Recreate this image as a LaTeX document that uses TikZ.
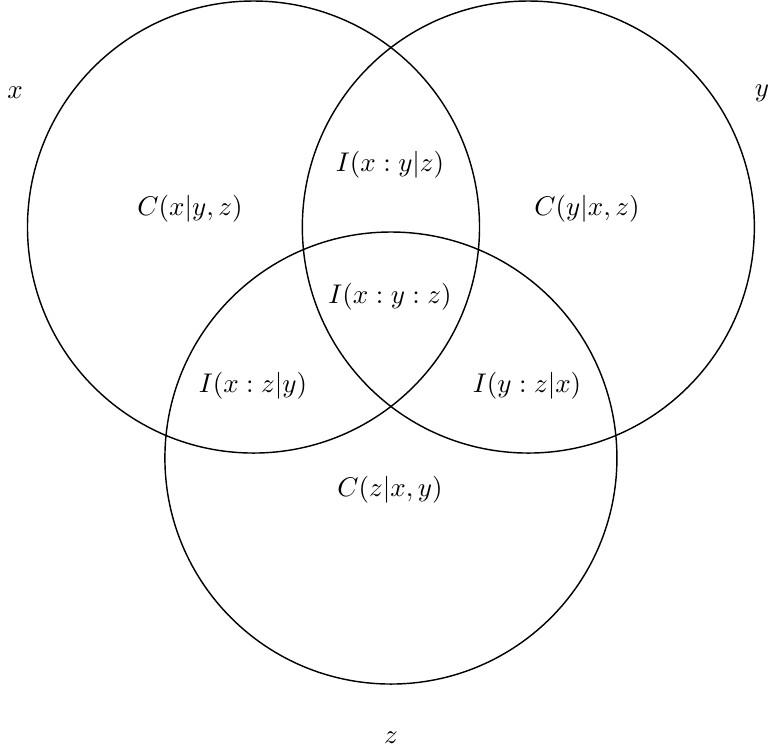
\documentclass[tikz,border=0pt]{standalone}
\usepackage{amsmath}
\usepackage{tikz}
\usetikzlibrary{positioning}
\tikzset{
  setc/.style={draw=black, line width=0.45pt},
  setlbl/.style={inner sep=0pt, scale=0.85},
  part/.style={inner sep=1pt, align=center, scale=0.85}
}
\begin{document}
\begin{tikzpicture}[x=1cm,y=1cm]
  \useasboundingbox (-2.804,-5.819) rectangle (5.702,2.511);
  \coordinate (cx) at (0,0);
  \coordinate (cy) at (3.04,0);
  \coordinate (cz) at (1.52,-2.555);
  \draw[setc] (cx) circle (2.5);
  \draw[setc] (cy) circle (2.5);
  \draw[setc] (cz) circle (2.5);
  \node[setlbl] (lx) at (-2.638,1.482) {$x$};
  \node[setlbl] (ly) at (5.625,1.482) {$y$};
  \node[setlbl] (lz) at (1.521,-5.653) {$z$};
  \node[part] (cxyz) at (-0.702,0.199) {$C(x|y,z)$};
  \node[part] (ixyz) at (1.510,0.686) {$I(x:y|z)$};
  \node[part] (cyxz) at (3.689,0.199) {$C(y|x,z)$};
  \node[part] (ixyzall) at (1.510,-0.774) {$I(x:y:z)$};
  \node[part] (ixzy) at (-0.006,-1.759) {$I(x:z|y)$};
  \node[part] (iyzx) at (3.025,-1.759) {$I(y:z|x)$};
  \node[part] (czxy) at (1.510,-2.909) {$C(z|x,y)$};
\end{tikzpicture}
\end{document}
